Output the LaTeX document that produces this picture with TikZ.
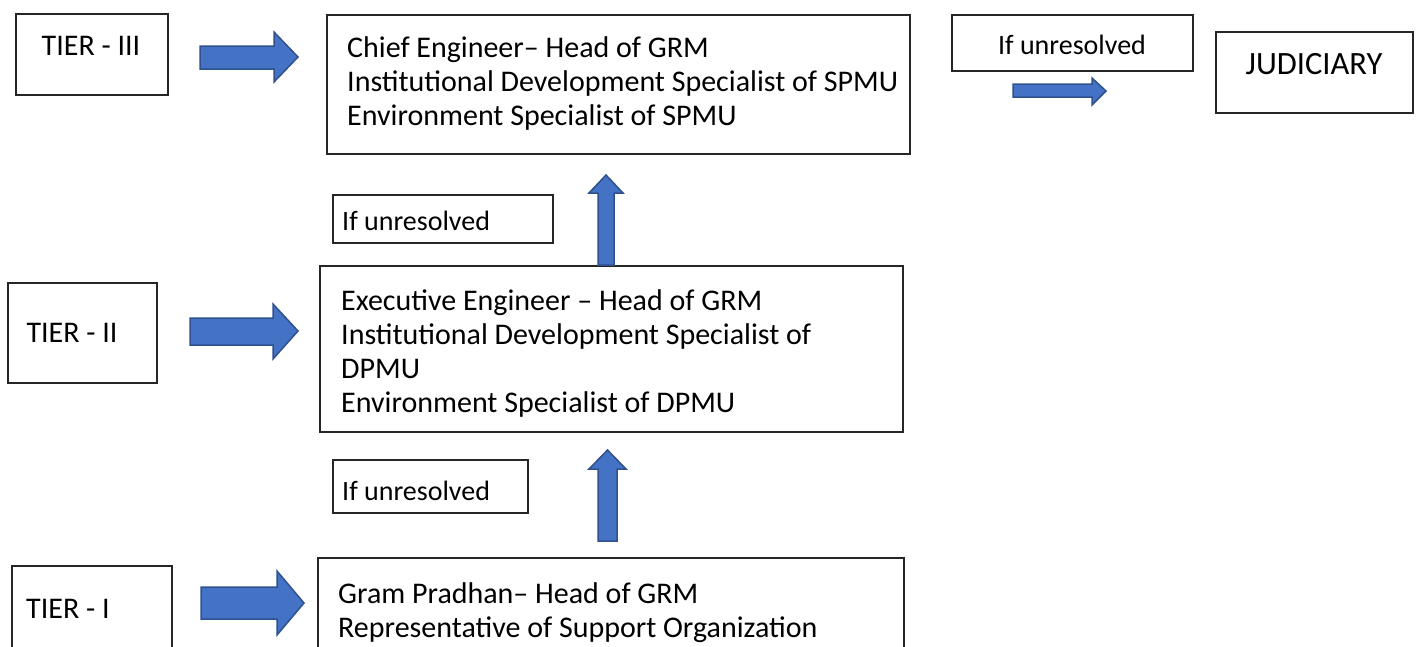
\documentclass[tikz,border=0pt]{standalone}
\usepackage{fontspec}
\setmainfont{Carlito}
\begin{document}
\begin{tikzpicture}[x=1pt,y=-1pt,
  box/.style={draw=black!85,line width=1.6pt},
  txt/.style={inner sep=0pt,font=\fontsize{30}{34}\selectfont,align=left},
  note/.style={txt,font=\fontsize{28}{34}\selectfont},
  blockarrow/.style={fill=arrowfill,draw=arrowedge,line width=1.5pt,line join=miter}]
\definecolor{arrowfill}{HTML}{4472C4}
\definecolor{arrowedge}{HTML}{2F528F}
\useasboundingbox (0,0) rectangle (1419,646);
\clip (0,0) rectangle (1419,646);

% tier labels
\draw[box] (16,14) rectangle (168,95);
\node[txt,anchor=base] (t3) at (91,55) {TIER - III};
\draw[box] (8,283) rectangle (157,383);
\node[txt,anchor=base] (t2) at (72,342) {TIER - II};
\draw[box] (12,566) rectangle (172,670);
\node[txt,anchor=base west] (t1) at (26,618) {TIER - I};

% committees (anchored on the baseline of the last line)
\draw[box] (327,15) rectangle (910,154);
\node[txt,anchor=base west] (chief) at (347,125)
  {Chief Engineer– Head of GRM\\Institutional Development Specialist of SPMU\\Environment Specialist of SPMU};
\draw[box] (320,266) rectangle (903,432);
\node[txt,anchor=base west] (exec) at (341,412)
  {Executive Engineer – Head of GRM\\Institutional Development Specialist of\\DPMU\\Environment Specialist of DPMU};
\draw[box] (318,558) rectangle (904,680);
\node[txt,anchor=base west] (gram) at (338,637)
  {Gram Pradhan– Head of GRM\\Representative of Support Organization};

% escalation notes
\draw[box] (333,195) rectangle (553,243);
\node[note,anchor=base west] (u2) at (342,230) {If unresolved};
\draw[box] (333,460) rectangle (528,513);
\node[note,anchor=base west] (u1) at (342,500) {If unresolved};
\draw[box] (952,15) rectangle (1193,71);
\node[note,anchor=base] (u3) at (1072,54) {If unresolved};
\draw[box] (1216,32) rectangle (1413,113);
\node[txt,anchor=base,font=\fontsize{32.5}{36}\selectfont] (jud) at (1314,74) {JUDICIARY};

% block arrows
\draw[blockarrow] (200,46) -- (274,46) -- (274,32) -- (298,57) -- (274,82) -- (274,69) -- (200,69) -- cycle;
\draw[blockarrow] (190,318) -- (273,318) -- (273,304) -- (298,331) -- (273,359) -- (273,345) -- (190,345) -- cycle;
\draw[blockarrow] (201,587) -- (277,587) -- (277,571) -- (304,603) -- (277,635) -- (277,619) -- (201,619) -- cycle;
\draw[blockarrow] (1013,84) -- (1092,84) -- (1092,78) -- (1106,91) -- (1092,105) -- (1092,97) -- (1013,97) -- cycle;
\draw[blockarrow] (598,265) -- (598,193) -- (589,193) -- (606,175) -- (623,193) -- (614,193) -- (614,265) -- cycle;
\draw[blockarrow] (598,541) -- (598,469) -- (589,469) -- (607.5,450) -- (626,469) -- (617,469) -- (617,541) -- cycle;
\end{tikzpicture}
\end{document}
